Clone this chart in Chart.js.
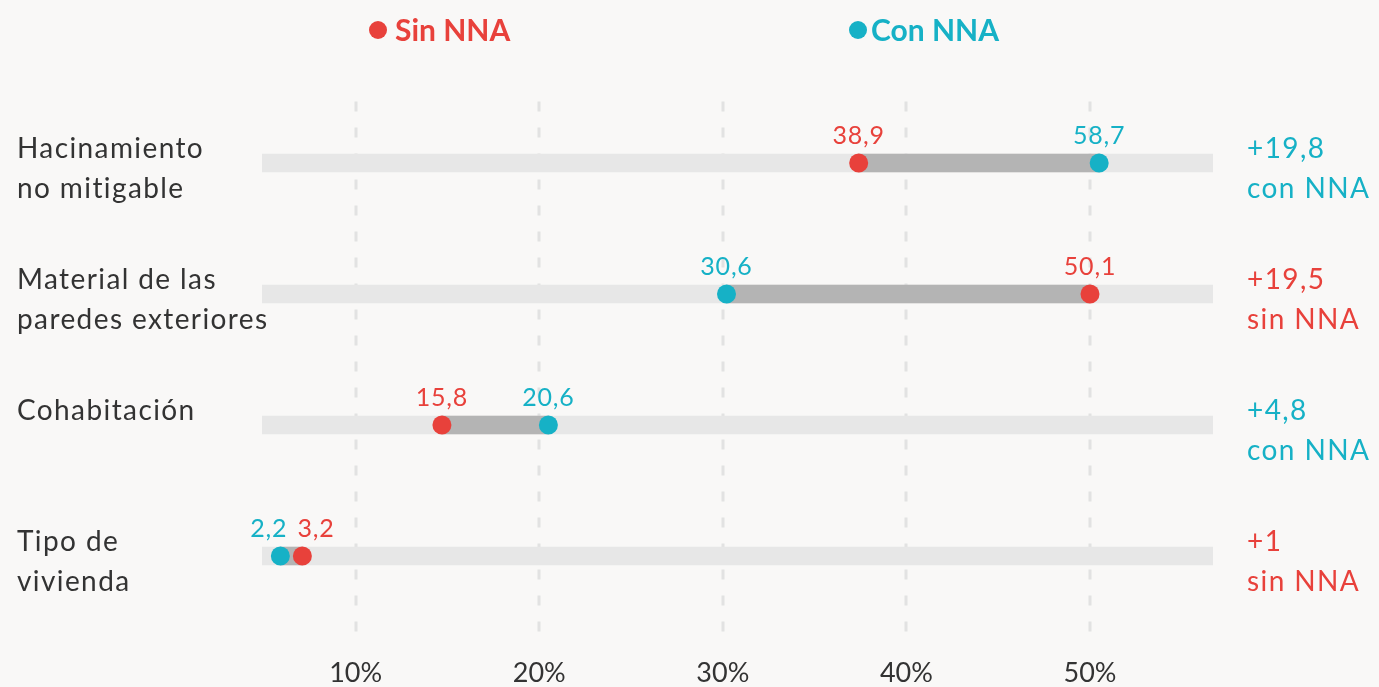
<!DOCTYPE html>
<html>
<head>
<meta charset="utf-8">
<script src="https://cdn.jsdelivr.net/npm/chart.js@4.4.0/dist/chart.umd.min.js"></script>
<style>
  html, body { margin: 0; padding: 0; background: #f9f8f7; }
  #wrap { width: 1379px; height: 687px; }
</style>
</head>
<body>
<div id="wrap"><canvas id="chart"></canvas></div>
<script>
const categories = [["Hacinamiento", "no mitigable"], ["Material de las", "paredes exteriores"], ["Cohabitación"], ["Tipo de", "vivienda"]];
// where the dots sit on the axis in the picture (%)
const sinNNA = [37.4, 50.0, 14.7, 7.1];
const conNNA = [50.5, 30.2, 20.5, 5.9];
// numbers printed above the dots
const sinLabels = ["38,9", "50,1", "15,8", "3,2"];
const conLabels = ["58,7", "30,6", "20,6", "2,2"];
// difference notes on the right
const diffLabels = ["+19,8", "+19,5", "+4,8", "+1"];
const diffGroups = ["con NNA", "sin NNA", "con NNA", "sin NNA"];
const xTicks = [10, 20, 30, 40, 50];
const xMin = 4.9, xMax = 56.7;

const RED = "#e8413b";
const TEAL = "#16b1c6";
const TEXT = "#333333";

Chart.defaults.font.family = "Lato";

const overlay = {
  id: "overlay",
  beforeDatasetsDraw(chart) {
    const { ctx, chartArea } = chart;
    const x = chart.scales.x;
    ctx.save();
    ctx.strokeStyle = "#e2e2e2";
    ctx.lineWidth = 3;
    ctx.setLineDash([10, 16]);
    xTicks.forEach(v => {
      const px = Math.round(x.getPixelForValue(v));
      ctx.beginPath();
      ctx.moveTo(px, chartArea.top + 4);
      ctx.lineTo(px, chartArea.bottom + 11);
      ctx.stroke();
    });
    ctx.restore();
  },
  afterDatasetsDraw(chart) {
    const { ctx } = chart;
    const x = chart.scales.x, y = chart.scales.y;
    ctx.save();
    ctx.textBaseline = "middle";

    // legend
    ctx.font = "bold 30px Lato";
    ctx.textAlign = "left";
    [[378, RED, "Sin NNA", 395], [858, TEAL, "Con NNA", 871]].forEach(([cx, col, txt, tx]) => {
      ctx.fillStyle = col;
      ctx.beginPath();
      ctx.arc(cx, 30, 9, 0, Math.PI * 2);
      ctx.fill();
      ctx.fillText(txt, tx, 31);
    });

    categories.forEach((lines, i) => {
      const py = y.getPixelForValue(i);
      // category name
      ctx.font = "28px Lato";
      ctx.letterSpacing = "1.4px";
      ctx.textAlign = "left";
      ctx.fillStyle = TEXT;
      lines.forEach((ln, j) => ctx.fillText(ln, 17, py - 14 + j * 40));
      // difference note
      ctx.fillStyle = diffGroups[i] === "con NNA" ? TEAL : RED;
      ctx.fillText(diffLabels[i], 1247, py - 14);
      ctx.fillText(diffGroups[i], 1247, py + 26);
      // value labels above the dots
      ctx.font = "25px Lato";
      ctx.letterSpacing = "0.8px";
      ctx.textBaseline = "alphabetic";
      const sx = x.getPixelForValue(sinNNA[i]);
      const cx = x.getPixelForValue(conNNA[i]);
      const items = [[sx, sinLabels[i], RED], [cx, conLabels[i], TEAL]];
      if (Math.abs(sx - cx) < 45) {
        // dots too close: push the labels apart
        items.sort((a, b) => a[0] - b[0]);
        ctx.textAlign = "right";
        ctx.fillStyle = items[0][2];
        ctx.fillText(items[0][1], items[0][0] + 7, py - 19);
        ctx.textAlign = "left";
        ctx.fillStyle = items[1][2];
        ctx.fillText(items[1][1], items[1][0] - 5, py - 19);
      } else {
        ctx.textAlign = "center";
        items.forEach(([px, txt, col]) => {
          ctx.fillStyle = col;
          ctx.fillText(txt, px, py - 19);
        });
      }
      ctx.textBaseline = "middle";
      ctx.letterSpacing = "0px";
    });
    ctx.restore();
  }
};

new Chart(document.getElementById("chart"), {
  type: "bar",
  data: {
    labels: categories.map(c => c.join(" ")),
    datasets: [
      {
        type: "line",
        label: "Sin NNA",
        data: sinNNA.map((v, i) => ({ x: v, y: categories[i].join(" ") })),
        showLine: false,
        pointRadius: 9.5,
        pointHoverRadius: 9.5,
        pointBorderWidth: 0,
        pointBackgroundColor: RED,
        order: 0,
      },
      {
        type: "line",
        label: "Con NNA",
        data: conNNA.map((v, i) => ({ x: v, y: categories[i].join(" ") })),
        showLine: false,
        pointRadius: 9.5,
        pointHoverRadius: 9.5,
        pointBorderWidth: 0,
        pointBackgroundColor: TEAL,
        order: 0,
      },
      {
        label: "Diferencia",
        data: sinNNA.map((v, i) => [Math.min(v, conNNA[i]), Math.max(v, conNNA[i])]),
        backgroundColor: "#b4b4b4",
        barThickness: 18,
        grouped: false,
        borderWidth: 0,
        order: 1,
      },
      {
        label: "Fondo",
        data: categories.map(() => [xMin, xMax]),
        backgroundColor: "#e7e7e7",
        barThickness: 18,
        grouped: false,
        borderWidth: 0,
        order: 2,
      },
    ],
  },
  options: {
    indexAxis: "y",
    responsive: true,
    maintainAspectRatio: false,
    animation: false,
    layout: { padding: { left: 262, right: 166, top: 97.5, bottom: 0 } },
    plugins: { legend: { display: false }, tooltip: { enabled: false } },
    scales: {
      x: {
        type: "linear",
        min: xMin,
        max: xMax,
        grid: { display: false, drawTicks: false },
        border: { display: false },
        afterBuildTicks: s => { s.ticks = xTicks.map(v => ({ value: v })); },
        afterFit: s => { s.height = 65.5; },
        ticks: {
          padding: 36,
          color: TEXT,
          font: { size: 27 },
          callback: v => v + "%",
        },
      },
      y: {
        type: "category",
        display: false,
        offset: true,
      },
    },
  },
  plugins: [overlay],
});
</script>
</body>
</html>
